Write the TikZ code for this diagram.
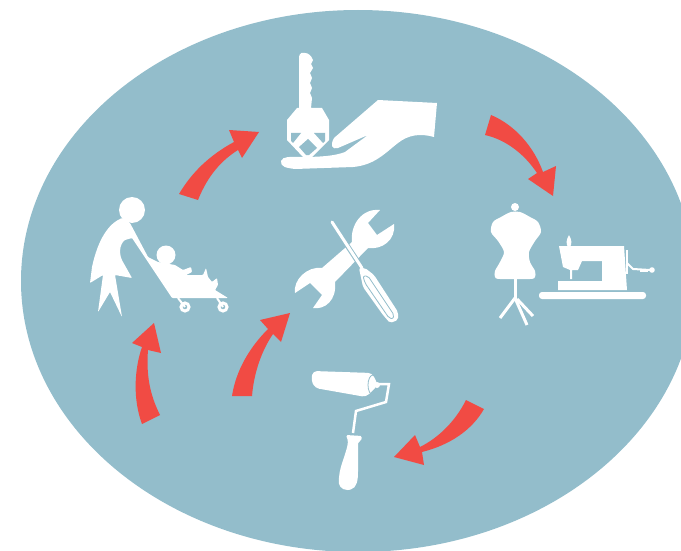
\documentclass[tikz,border=0pt]{standalone}
\usepackage{xcolor}
\definecolor{myteal}{RGB}{147,189,203}
\definecolor{myred}{RGB}{241,75,68}
\tikzset{
  redarrow/.style={fill=myred},
  icon/.style={fill=white},
  iconline/.style={draw=white,line width=3pt},
  gap/.style={fill=myteal},
  gapline/.style={draw=myteal,line width=0.8pt}
}

\begin{document}
\begin{tikzpicture}[x=1pt,y=-1pt]
  \useasboundingbox (0,0) rectangle (681,551);
  \clip (0,0) rectangle (681,551);
  \fill[myteal] (358,281) ellipse [x radius=337, y radius=271];

  % arrows
  \fill[redarrow] (179,194) .. controls (192,172) and (210,155) .. (234,142) -- (229,130) -- (259,132) -- (242,158) -- (238,150) .. controls (222,160) and (208,175) .. (198,200) -- cycle;
  \fill[redarrow] (491,115) .. controls (515,125) and (534,147) .. (543,172) -- (556,166) -- (553,196) -- (528,179) -- (537,173) .. controls (525,155) and (507,140) .. (485,135) -- cycle;
  \fill[redarrow] (466,400) .. controls (455,422) and (438,438) .. (420,447) -- (415,435) -- (394,457) -- (424,465) -- (422,452) .. controls (450,445) and (472,430) .. (484,409) -- cycle;
  \fill[redarrow] (142,424) .. controls (133,400) and (134,370) .. (142,347) -- (132,343) -- (154,323) -- (161,353) -- (148,350) .. controls (146,375) and (150,395) .. (160,415) -- cycle;
  \fill[redarrow] (232,396) .. controls (236,370) and (250,347) .. (268,329) -- (260,320) -- (290,313) -- (281,342) -- (273,334) .. controls (262,350) and (254,372) .. (252,396) -- cycle;

  % key
  \fill[icon] (299,108) -- (299,59) .. controls (299,51) and (303,53) .. (305,53) .. controls (308,53) and (311,55) .. (313,60) -- (311,64) -- (313,68) -- (310,73) -- (312,78) -- (310,83) -- (312,88) -- (310,93) -- (312,98) -- (311,108) -- (322,108) -- (329,120) -- (329,140) -- (312,157) -- (303,157) -- (287,140) -- (287,120) -- (297,108) -- cycle;
  \fill[gap] (291,133) -- (301,133) -- (293,143) -- (291,141) -- cycle;
  \fill[gap] (314,133) -- (325,133) -- (325,141) -- (323,143) -- cycle;
  \fill[gap] (308,139) -- (317,148) -- (309,155) -- (306,155) -- (299,147) -- cycle;
  % hand
  \fill[icon] (378,100) -- (437,103) -- (434,137) .. controls (420,133) and (408,135) .. (398,143) .. controls (385,153) and (375,165) .. (353,167) -- (295,169) .. controls (287,168) and (280,167) .. (281,161) .. controls (283,156) and (290,157) .. (300,157) .. controls (320,157) and (335,156) .. (345,152) -- (368,135) -- (338,148) .. controls (332,150) and (330,145) .. (334,138) -- cycle;

  % woman with pram
  \fill[icon] (132,210) circle (13);
  \fill[icon,rounded corners=0.8pt] (122,218) .. controls (108,224) and (98,240) .. (92,267) -- (90,283) -- (103,275) -- (98,312) -- (110,292) -- (122,317) -- (115,275) -- (132,278) -- (123,262) .. controls (119,255) and (119,245) .. (125,240) -- (132,238) -- (172,298) -- (228,298) -- (215,290) -- (218,285) -- (217,278) -- (212,282) -- (208,277) -- (206,268) -- (203,275) -- (186,275) -- (192,272) -- (191,267) -- (183,270) -- (175,265) -- (158,262) -- (148,257) -- (130,223) -- cycle;
  \fill[icon] (166,255) circle (9.5);
  \draw[draw=white,line width=2pt] (178,298) -- (185,307);
  \draw[draw=white,line width=2pt] (217,298) -- (223,307);
  \draw[draw=white,line width=3pt] (185,307) circle (4);
  \draw[draw=white,line width=3pt] (223,307) circle (4);

  % dress form
  \fill[icon] (515,207) circle (4);
  \fill[icon] plot[smooth cycle,tension=0.5] coordinates {(511,212) (520,212) (530,217) (538,222) (541,232) (535,241) (529,252) (530,262) (535,271) (535,277) (530,279) (500,279) (495,277) (495,271) (500,262) (504,252) (498,241) (491,232) (493,222) (501,217)};
  \draw[iconline] (515,279) -- (515,298);
  \draw[iconline] (515,298) -- (500,318);
  \draw[iconline] (515,298) -- (527,325);
  \draw[iconline] (517,299) -- (533,316);

  % sewing machine
  \fill[icon,rounded corners=3pt] (539,292) rectangle (646,299);
  \fill[icon] (559,246) -- (624,246) -- (627,290) -- (558,290) -- (558,281) -- (602,281) -- (602,261) -- (582,261) -- (578,270) -- (572,270) -- (572,279) -- (570,279) -- (570,270) -- (563,267) -- cycle;
  \fill[icon] (569,235) .. controls (572,240) and (572,244) .. (570,247) -- (568,247) .. controls (566,244) and (566,240) .. (569,235) -- cycle;
  \draw[draw=white,line width=2pt] (627,250) -- (627,274);
  \draw[draw=white,line width=2pt] (627,263) -- (633,269) -- (650,270);
  \fill[icon] (652,270) circle (2.8);
  \draw[draw=white,line width=3pt] (640,270) -- (648,270);

  % wrench and screwdriver
  \fill[icon] (352,242) .. controls (350,225) and (362,208) .. (380,210) -- (368,223) -- (377,235) -- (394,224) .. controls (396,240) and (382,250) .. (368,248) -- (335,282) .. controls (337,300) and (325,310) .. (313,308) -- (322,295) -- (310,283) -- (295,293) .. controls (293,280) and (307,266) .. (322,268) -- cycle;
  \draw[draw=myteal,line width=5pt] (333,224) -- (362,268);
  \draw[draw=white,line width=3pt,line cap=round] (332,222) -- (362,268);
  \fill[icon,rounded corners=2pt] (359,268) -- (365,268) -- (374,275) -- (398,312) -- (398,320) -- (390,323) -- (383,315) -- (363,287) -- cycle;
  \draw[gapline,rounded corners=2pt] (363,276) -- (368,276) -- (394,315) -- (393,319) -- (389,318) -- (365,283) -- cycle;

  % paint roller
  \draw[draw=white,line width=2.5pt] (376,384) -- (389,384) -- (386,402) -- (356,411) -- (353,433);
  \fill[icon,rounded corners=4pt] (313,371) -- (372,373) -- (378,385) -- (366,397) -- (315,388) -- (311,380) -- cycle;
  \draw[gapline] (373,385) ellipse [x radius=5, y radius=10];
  \fill[icon] (377,385) circle (3);
  \fill[icon,rounded corners=1.5pt] (346,435) -- (362,436) -- (361,441) -- (358,442) -- (358,470) .. controls (358,480) and (357,488) .. (349,490) .. controls (341,490) and (338,485) .. (339,478) .. controls (340,465) and (347,452) .. (348,441) -- cycle;
\end{tikzpicture}
\end{document}
